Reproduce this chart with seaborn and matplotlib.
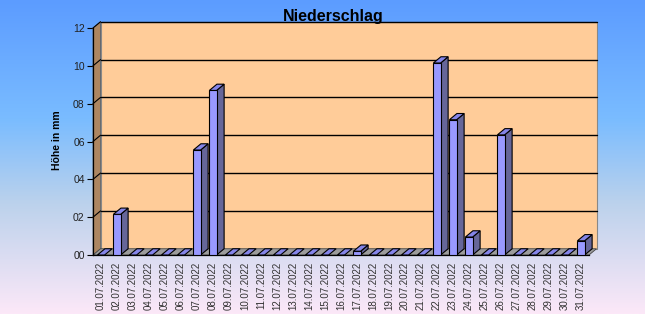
import numpy as np
import pandas as pd
import matplotlib
matplotlib.use("Agg")
import matplotlib.pyplot as plt
from matplotlib.patches import Polygon
from matplotlib.colors import LinearSegmentedColormap
import seaborn as sns

# ---- data ----
dates = [f"{d:02d}.07.2022" for d in range(1, 32)]
rain_mm = [0, 2.15, 0, 0, 0, 0, 5.55, 8.7, 0, 0, 0, 0, 0, 0, 0, 0, 0.2,
           0, 0, 0, 0, 10.15, 7.15, 0.95, 0, 6.35, 0, 0, 0, 0, 0.75]
yticks = [0, 2, 4, 6, 8, 10, 12]
ytick_labels = ["00", "02", "04", "06", "08", "10", "12"]
title = "Niederschlag"
ylabel = "Höhe in mm"

df = pd.DataFrame({"Datum": dates, "Niederschlag": rain_mm})

sns.set_theme(style="white")
plt.rcParams["font.family"] = ["Liberation Sans", "DejaVu Sans"]

W, H = 645, 314
fig = plt.figure(figsize=(W / 100, H / 100), dpi=100)

# background gradient
bg = fig.add_axes([0, 0, 1, 1], zorder=-10)
cmap = LinearSegmentedColormap.from_list(
    "bg", [(0.0, (92/255, 156/255, 255/255)),
           (0.38, (122/255, 188/255, 255/255)),
           (0.65, (188/255, 210/255, 236/255)),
           (1.0, (252/255, 232/255, 248/255))])
grad = np.linspace(0, 1, 256).reshape(-1, 1)
bg.imshow(grad, aspect="auto", cmap=cmap, extent=[0, 1, 0, 1], origin="upper")
bg.set_axis_off()

# main axes (front plane)
x0p, x1p, y0p, y1p = 93, 589, 255, 28
ax = fig.add_axes([x0p / W, (H - y0p) / H, (x1p - x0p) / W, (y0p - y1p) / H])
ax.patch.set_alpha(0)

n = len(dates)
xmin, xmax, ymax = -0.5, n - 0.5, 12
dx, dy = 0.47, 0.33   # depth offset (category units, mm)

front_col = "#9999FF"
side_col = "#666699"
top_col = "#8585E8"

def poly(pts, fc, ec="none", lw=0.0, z=1):
    p = Polygon(pts, closed=True, facecolor=fc, edgecolor=ec, linewidth=lw,
                zorder=z, clip_on=False)
    ax.add_patch(p)

# walls and floor
poly([(xmin + dx, dy), (xmax + dx, dy), (xmax + dx, ymax + dy), (xmin + dx, ymax + dy)],
     "#FFCC99", ec="#888888", lw=0.8, z=0.5)
poly([(xmin, 0), (xmin + dx, dy), (xmin + dx, ymax + dy), (xmin, ymax)],
     "#AD8661", ec="#555555", lw=0.5, z=0.6)
poly([(xmin, 0), (xmax, 0), (xmax + dx, dy), (xmin + dx, dy)],
     "#9C9C9C", ec="#444444", lw=0.6, z=0.7)
for v in yticks[1:]:
    ax.plot([xmin + dx, xmax + dx], [v + dy, v + dy], color="black", lw=1.0,
            zorder=0.8, clip_on=False)
    ax.plot([xmin, xmin + dx], [v, v + dy], color="black", lw=0.8,
            zorder=0.8, clip_on=False)

sns.barplot(data=df, x="Datum", y="Niederschlag", ax=ax, color=front_col,
            saturation=1, width=0.45, edgecolor="black", linewidth=0.8,
            errorbar=None, zorder=3)

for p in ax.patches:
    if not hasattr(p, "get_x") or p.get_zorder() != 3:
        continue
    bx0 = p.get_x()
    bx1 = bx0 + p.get_width()
    h = p.get_height()
    if h > 0:
        poly([(bx1, 0), (bx1 + dx, dy), (bx1 + dx, h + dy), (bx1, h)],
             side_col, ec="black", lw=0.8, z=2.9)
    poly([(bx0, h), (bx1, h), (bx1 + dx, h + dy), (bx0 + dx, h + dy)],
         top_col, ec="black", lw=0.8, z=3.1)

ax.set_xlim(xmin, xmax)
ax.set_ylim(0, ymax)
ax.set_yticks(yticks)
ax.set_yticklabels(ytick_labels, fontsize=7.5, color="#222222")
ax.set_xticks(range(n))
ax.set_xticklabels(dates, rotation=90, fontsize=7, color="#333333")
ax.set_xticks(np.arange(-0.5, n, 1), minor=True)
ax.tick_params(axis="x", which="major", length=0, pad=5)
ax.tick_params(axis="x", which="minor", length=3, width=0.7, color="black", direction="out")
ax.tick_params(axis="y", length=4, width=0.8, color="black", direction="out", pad=2, left=True)
ax.set_xlabel("")
ax.set_ylabel("")
for s in ["top", "right"]:
    ax.spines[s].set_visible(False)
ax.spines["left"].set_color("black")
ax.spines["left"].set_linewidth(0.9)
ax.spines["bottom"].set_color("black")
ax.spines["bottom"].set_linewidth(0.9)
ax.grid(False)

fig.text(333 / W, 1 - 17 / H, title, ha="center", va="center",
         fontsize=11.5, fontweight="bold", color="black", zorder=10)
fig.text(57 / W, 1 - 140 / H, ylabel, ha="center", va="center", rotation=90,
         fontsize=7.5, fontweight="bold", color="black")

fig.savefig("out.png", dpi=100)
